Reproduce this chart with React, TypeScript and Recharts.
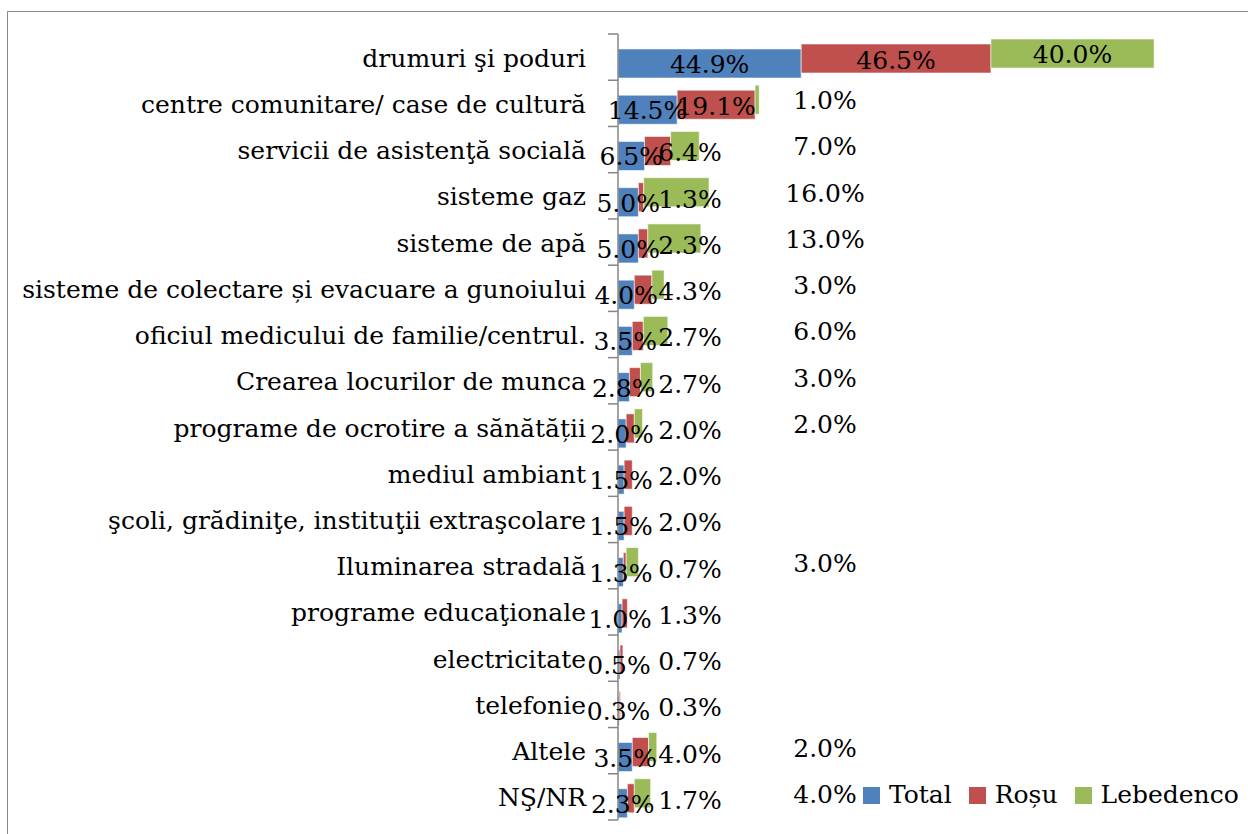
import { BarChart, Bar, XAxis, YAxis, LabelList } from 'recharts';

const categories = [
  'drumuri şi poduri',
  'centre comunitare/ case de cultură',
  'servicii de asistenţă socială',
  'sisteme gaz',
  'sisteme de apă',
  'sisteme de colectare și evacuare a gunoiului',
  'oficiul medicului de familie/centrul.',
  'Crearea locurilor de munca',
  'programe de ocrotire a sănătății',
  'mediul ambiant',
  'şcoli, grădiniţe, instituţii extraşcolare',
  'Iluminarea stradală',
  'programe educaţionale',
  'electricitate',
  'telefonie',
  'Altele',
  'NŞ/NR',
];

const totalValues = [44.9, 14.5, 6.5, 5.0, 5.0, 4.0, 3.5, 2.8, 2.0, 1.5, 1.5, 1.3, 1.0, 0.5, 0.3, 3.5, 2.3];
const rosuValues = [46.5, 19.1, 6.4, 1.3, 2.3, 4.3, 2.7, 2.7, 2.0, 2.0, 2.0, 0.7, 1.3, 0.7, 0.3, 4.0, 1.7];
const lebedencoValues = [40.0, 1.0, 7.0, 16.0, 13.0, 3.0, 6.0, 3.0, 2.0, 0, 0, 3.0, 0, 0, 0, 2.0, 4.0];

const seriesNames = ['Total', 'Roșu', 'Lebedenco'];
const seriesColors = ['#4F81BD', '#C0504D', '#9BBB59'];

const data = categories.map((name, i) => ({
  name,
  total: totalValues[i],
  rosu: rosuValues[i],
  lebedenco: lebedencoValues[i],
}));

const FONT = '"DejaVu Serif", serif';
const FONT_SIZE = 25;
const PLOT_LEFT = 618;
const PLOT_TOP = 34;
const PLOT_BOTTOM = 820;
const BAND = (PLOT_BOTTOM - PLOT_TOP) / categories.length;

// Excel draws each series a little shifted up/down inside the stack
const shiftedBar = (dy: number) => (props: any) => {
  const { x, y, width, height, fill } = props;
  if (!width || width <= 0) return <g />;
  return (
    <rect
      x={x}
      y={y + dy}
      width={width}
      height={height}
      fill={fill}
      stroke="rgba(255,255,255,0.55)"
      strokeWidth={1}
    />
  );
};

const makeLabel = (dy: number, columnOffset: number | null) => (props: any) => {
  const vb = props.viewBox || props;
  const x = Number(vb.x ?? props.x);
  const y = Number(vb.y ?? props.y);
  const w = Number(vb.width ?? props.width);
  const h = Number(vb.height ?? props.height);
  const value = Number(props.value);
  if (!value) return null;
  const inside = columnOffset === null || w >= 70;
  const cx = inside ? x + w / 2 : PLOT_LEFT + (columnOffset as number);
  const cy = y + h / 2 + dy;
  return (
    <text
      x={cx}
      y={cy}
      textAnchor="middle"
      dominantBaseline="central"
      fontFamily={FONT}
      fontSize={FONT_SIZE}
      fill="#000"
    >
      {value.toFixed(1) + '%'}
    </text>
  );
};

const CategoryTick = (props: any) => {
  const { y, payload, index } = props;
  return (
    <g>
      <text
        x={PLOT_LEFT - 32}
        y={y + 1}
        textAnchor="end"
        dominantBaseline="central"
        fontFamily={FONT}
        fontSize={FONT_SIZE}
        fill="#000"
      >
        {payload.value}
      </text>
      <line x1={PLOT_LEFT - 10} x2={PLOT_LEFT} y1={y - BAND / 2} y2={y - BAND / 2} stroke="#868686" strokeWidth={1.5} />
      {index === categories.length - 1 && (
        <line x1={PLOT_LEFT - 10} x2={PLOT_LEFT} y1={y + BAND / 2} y2={y + BAND / 2} stroke="#868686" strokeWidth={1.5} />
      )}
    </g>
  );
};

function ChartLegend() {
  return (
    <div
      style={{
        position: 'absolute',
        left: 863,
        top: 780,
        display: 'flex',
        alignItems: 'center',
        fontFamily: FONT,
        fontSize: FONT_SIZE,
        lineHeight: '30px',
        color: '#000',
        whiteSpace: 'nowrap',
      }}
    >
      {seriesNames.map((n, i) => (
        <div key={n} style={{ display: 'flex', alignItems: 'center', marginRight: i < 2 ? 17 : 0 }}>
          <span style={{ width: 17, height: 17, background: seriesColors[i], display: 'inline-block', marginRight: 9 }} />
          <span>{n}</span>
        </div>
      ))}
    </div>
  );
}

export default function App() {
  return (
    <div style={{ position: 'absolute', left: 0, top: 0, width: 1248, height: 834, overflow: 'hidden', background: '#fff' }}>
      <div
        style={{
          position: 'absolute',
          left: 7,
          top: 11,
          width: 1300,
          height: 900,
          borderTop: '1.5px solid #8c8c8c',
          borderLeft: '1.5px solid #8c8c8c',
        }}
      />
      <div style={{ position: 'absolute', left: 0, top: 0 }}>
        <BarChart
          width={1248}
          height={834}
          data={data}
          layout="vertical"
          margin={{ top: PLOT_TOP, right: 18, bottom: 834 - PLOT_BOTTOM, left: 0 }}
        >
          <XAxis type="number" domain={[0, 150]} hide />
          <YAxis
            type="category"
            dataKey="name"
            width={PLOT_LEFT}
            interval={0}
            tickLine={false}
            axisLine={{ stroke: '#868686', strokeWidth: 1.5 }}
            tick={<CategoryTick />}
          />
          <Bar dataKey="total" name="Total" stackId="a" barSize={29} fill={seriesColors[0]} shape={shiftedBar(6)} isAnimationActive={false}>
            <LabelList dataKey="total" content={makeLabel(7, null)} />
          </Bar>
          <Bar dataKey="rosu" name="Roșu" stackId="a" barSize={29} fill={seriesColors[1]} shape={shiftedBar(1)} isAnimationActive={false}>
            <LabelList dataKey="rosu" content={makeLabel(3, 72)} />
          </Bar>
          <Bar dataKey="lebedenco" name="Lebedenco" stackId="a" barSize={29} fill={seriesColors[2]} shape={shiftedBar(-4)} isAnimationActive={false}>
            <LabelList dataKey="lebedenco" content={makeLabel(-3, 207)} />
          </Bar>
        </BarChart>
      </div>
      <ChartLegend />
    </div>
  );
}
